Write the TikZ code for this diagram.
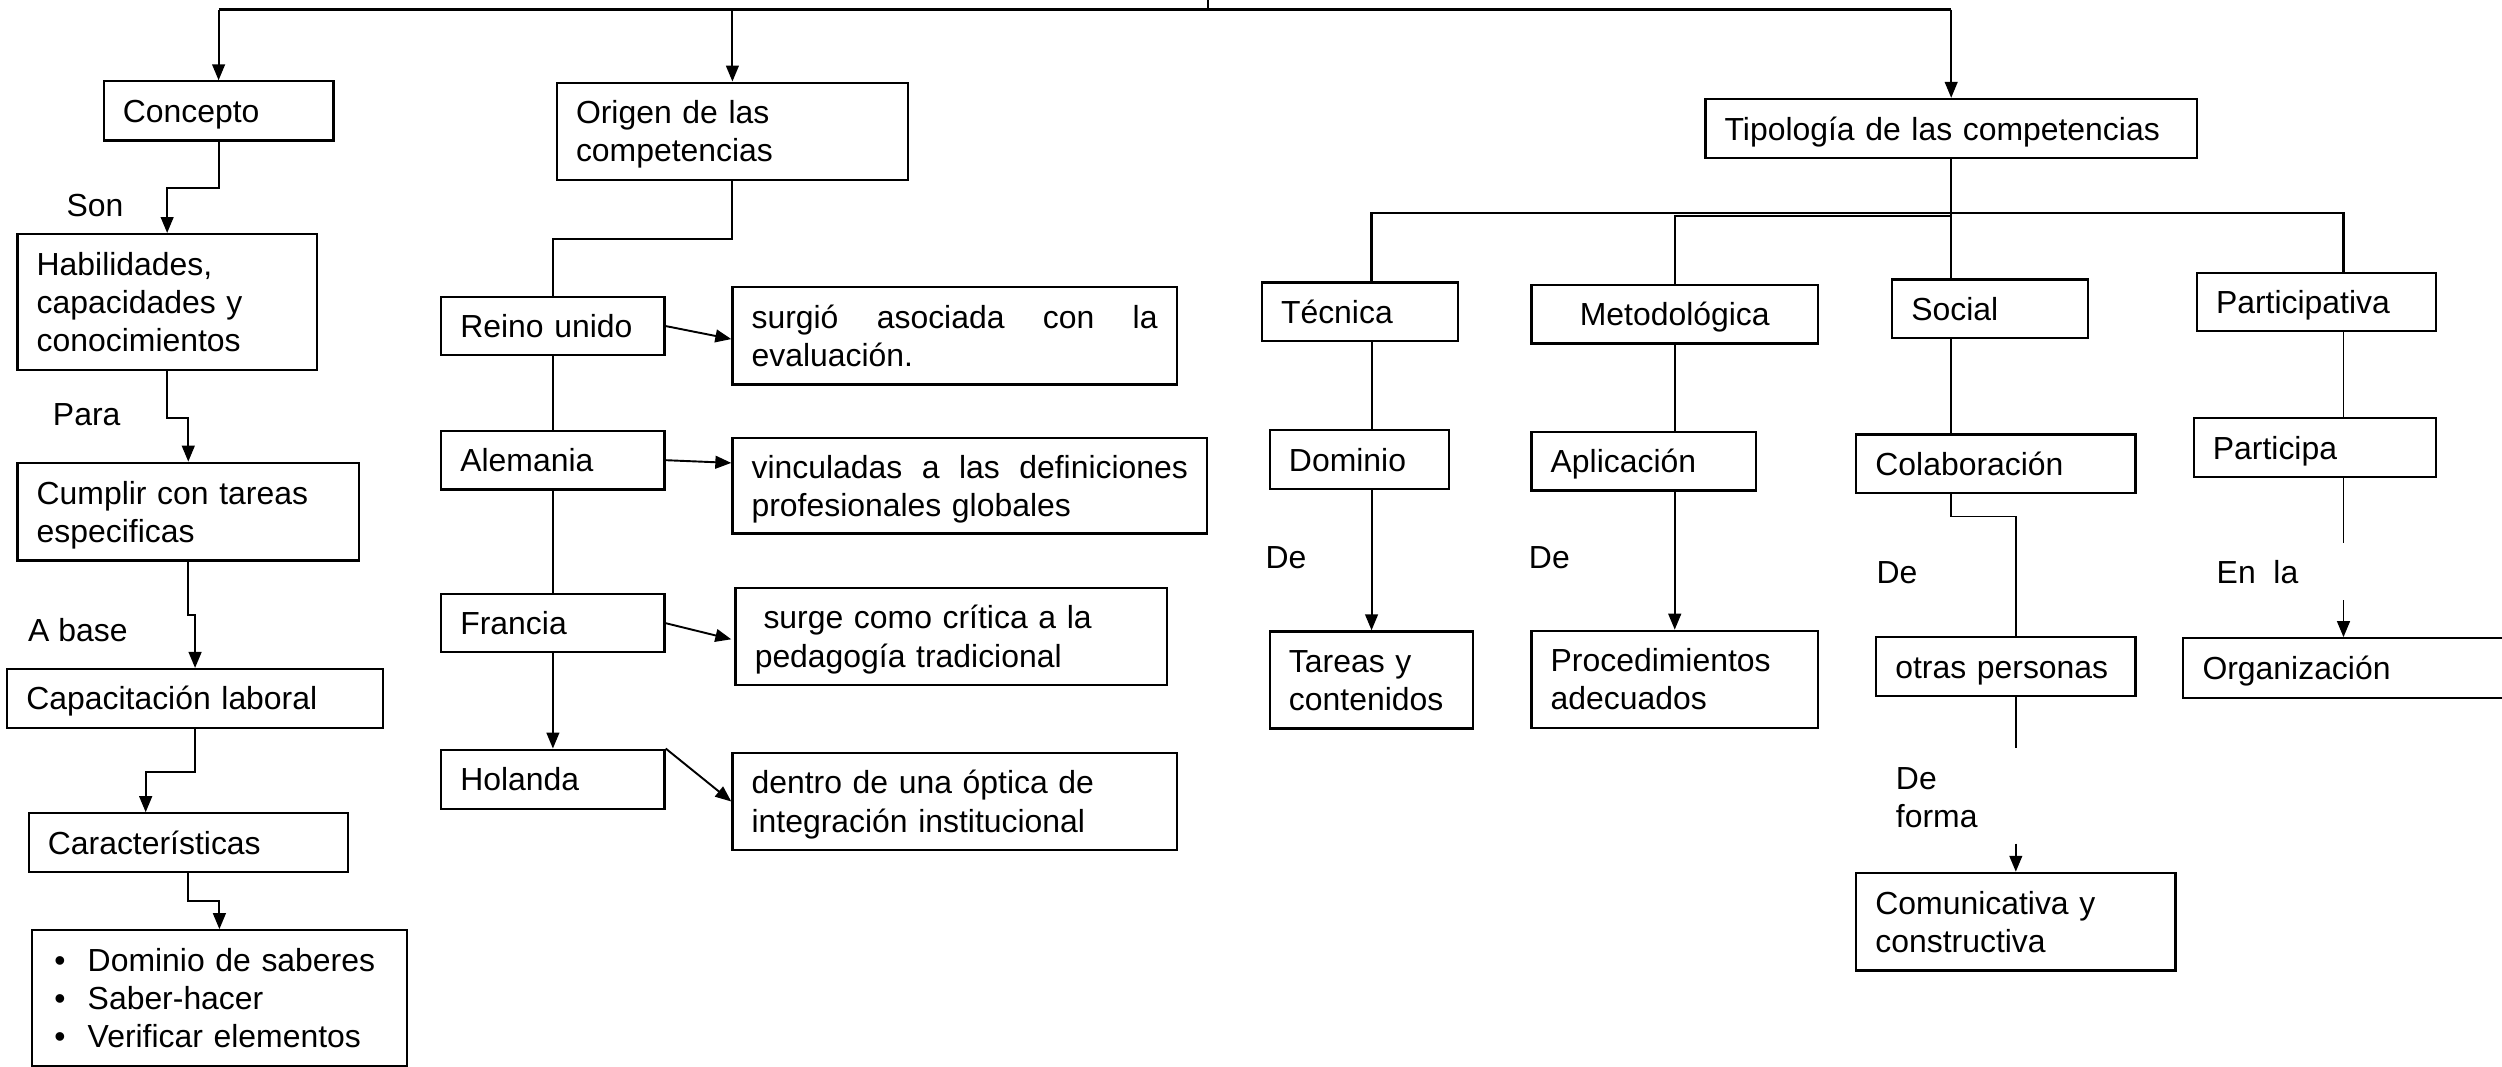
\documentclass[tikz,border=0pt]{standalone}
\usepackage{fontspec}
\setmainfont{Liberation Sans}
\usetikzlibrary{arrows.meta,calc}
\tikzset{
  box/.style={draw, line width=1.4pt, inner xsep=12pt, inner ysep=0pt, align=left,
    font=\fontsize{20}{24}\selectfont, text height=14.5pt, text depth=0pt},
  l2/.style={text depth=24pt},
  l3/.style={text depth=48pt},
  lbl/.style={font=\fontsize{20}{24}\selectfont, anchor=west, inner sep=0pt, align=left},
  conn/.style={line width=1.2pt},
  thickline/.style={line width=1.5pt},
  arr/.style={conn, -{Triangle[length=10pt,width=8pt]}},
}
\newcommand{\mybox}[7][]{%
  \pgfmathsetmacro\bw{#5-#3}%
  \pgfmathsetmacro\bh{#6-#4}%
  \pgfmathsetmacro\tw{#5-#3-24}%
  \node[box, minimum width=\bw pt, minimum height=\bh pt, text width=\tw pt, #1] (#2) at ({(#3+#5)/2},{(#4+#6)/2}) {#7};}
\begin{document}
\begin{tikzpicture}[x=1pt,y=-1pt]
\fill[white] (0,0) rectangle (1568,668.6);
\useasboundingbox (0,0) rectangle (1568,668.6);

% left column
\mybox{concepto}{65}{51}{209}{88}{Concepto}
\mybox[l3]{habil}{11}{146.7}{198.5}{231.7}{Habilidades,\\capacidades y\\conocimientos}
\mybox[l2]{cumplir}{11}{290}{225}{351.3}{Cumplir con tareas\\especificas}
\mybox{capac}{4.5}{419.3}{240}{456}{Capacitación laboral}
\mybox{caract}{18}{509.7}{218}{546.6}{Características}
\mybox[l3]{lista}{20}{583}{255}{668}{\hspace*{2pt}\makebox[21pt][l]{\textbullet}Dominio de saberes\\\hspace*{2pt}\makebox[21pt][l]{\textbullet}Saber-hacer\\\hspace*{2pt}\makebox[21pt][l]{\textbullet}Verificar elementos}

% origen column
\mybox[l2]{origen}{349}{51.8}{569}{112.6}{Origen de las\\competencias}
\mybox{reino}{276.5}{186}{416.5}{222.7}{Reino unido}
\mybox{alem}{276.5}{270}{416.5}{306.8}{Alemania}
\mybox{francia}{276.5}{372.3}{416.5}{408.8}{Francia}
\mybox{holanda}{276.5}{469.8}{416.5}{507}{Holanda}
\mybox[l2]{surgio}{459}{180}{737.5}{241}{surgió\hfill asociada\hfill con\hfill la\\evaluación.}
\mybox[l2]{vinc}{459}{274.4}{756.5}{334.4}{vinculadas\hfill a\hfill las\hfill definiciones\\profesionales globales}
\mybox[l2]{surge}{461}{368.5}{731.5}{429.2}{\hspace*{5.5pt}surge como crítica a la\\pedagogía tradicional}
\mybox[l2]{dentro}{459}{472}{737.5}{532.6}{dentro de una óptica de\\integración institucional}

% tipologia
\mybox{tipo}{1068.8}{62}{1376.8}{99}{Tipología de las competencias}
\mybox{tecnica}{790.8}{177}{913.8}{213.6}{Técnica}
\mybox[align=center]{metod}{959.8}{178.6}{1139.3}{215.3}{Metodológica}
\mybox{social}{1185.8}{175.2}{1308.3}{211.9}{Social}
\mybox{partic}{1376.8}{170.9}{1526.8}{207.5}{Participativa}
\mybox{dominio}{795.8}{269.7}{908.3}{306.4}{Dominio}
\mybox{aplic}{959.8}{270.8}{1100.3}{307.4}{Aplicación}
\mybox{colab}{1163.3}{272.3}{1338.3}{309}{Colaboración}
\mybox{participa}{1374.8}{262.1}{1526.8}{298.8}{Participa}
\mybox[l2]{tareas}{795.8}{395.7}{923.3}{456.5}{Tareas y\\contenidos}
\mybox[l2]{proced}{959.8}{395.3}{1139.3}{456}{Procedimientos\\adecuados}
\mybox{otras}{1175.8}{399.2}{1338.3}{436.1}{otras personas}
\mybox{organizacion}{1368.3}{400}{1569}{437.2}{Organización}
\mybox[l2]{comun}{1163.3}{547}{1363.3}{608.2}{Comunicativa y\\constructiva}

% labels
\node[lbl] (lson) at (41.5,129) {Son};
\node[lbl] (lpara) at (33,260) {Para};
\node[lbl] (lbase) at (17.5,395) {A base};
\node[lbl] (lde1) at (793,349.6) {De};
\node[lbl] (lde2) at (958,349.3) {De};
\node[lbl] (lde3) at (1175.8,358.8) {De};
\node[lbl] (lenla) at (1389,358.8) {En~~la};
\node[lbl] (ldeforma) at (1188,500) {De\\forma};

% top hub
\coordinate (hubtop) at (757,-3);
\coordinate (hub) at (757,6);
\draw[thickline] (hubtop) -- (hub);
\draw[thickline] (concepto.north |- hub) -- (tipo.north |- hub);
\draw[arr] (concepto.north |- hub) -- (concepto.north);
\draw[arr] (origen.north |- hub) -- (origen.north);
\draw[arr] (tipo.north |- hub) -- (tipo.north);

% left chain
\draw[arr] (concepto.south) -- ++(0,29) -| (habil.north);
\draw[arr] (habil.south) -- ++(0,29.3) -| (cumplir.north);
\draw[arr] (cumplir.south) -- ++(0,33.3) -| (capac.north);
\draw[arr] (capac.south) -- ++(0,27.3) -| ($(caract.north west)+(74,0)$);
\draw[arr] (caract.south) -- ++(0,17.4) -| (lista.north);

% origen chain
\draw[conn] (origen.south) -- ++(0,36.3) -| (reino.north);
\draw[conn] (reino.south) -- (alem.north);
\draw[conn] (alem.south) -- (francia.north);
\draw[arr] (francia.south) -- (holanda.north);
\draw[arr] (reino.east) -- ($(surgio.west)+(0,2)$);
\draw[arr] (alem.east) -- ($(vinc.north west)+(0,16.4)$);
\draw[arr] (francia.east) -- ($(surge.west)+(-2,1.8)$);
\draw[arr] (holanda.north east) -- (dentro.west);

% tipologia tree
\coordinate (tj) at (1222.8,133.3);
\draw[conn] (tipo.south) -- (tj);
\draw[thickline] (tareas.north |- tecnica.north) |- (tj) -| (organizacion.north |- partic.north);
\draw[conn] (metod.north) |- ($(tj)+(0,2.2)$);
\draw[conn] (tj) -- (tj |- social.north);

\draw[conn] (tareas.north |- tecnica.south) -- (tareas.north |- dominio.north);
\draw[arr] (tareas.north |- dominio.south) -- (tareas.north);

\draw[conn] (metod.south) -- (metod.south |- aplic.north);
\draw[arr] (metod.south |- aplic.south) -- (proced.north);

\draw[conn] (tj |- social.south) -- (tj |- colab.north);
\draw[conn] (tj |- colab.south) -- ++(0,14) -| (comun.north |- otras.north);
\draw[conn] (comun.north |- otras.south) -- ++(0,32.2);
\draw[arr] ($(comun.north)+(0,-17.6)$) -- (comun.north);

\draw[conn] (organizacion.north |- partic.south) -- (organizacion.north |- participa.north);
\draw[conn] (organizacion.north |- participa.south) -- ++(0,40.7);
\draw[arr] ($(organizacion.north)+(0,-23)$) -- (organizacion.north);
\end{tikzpicture}
\end{document}
